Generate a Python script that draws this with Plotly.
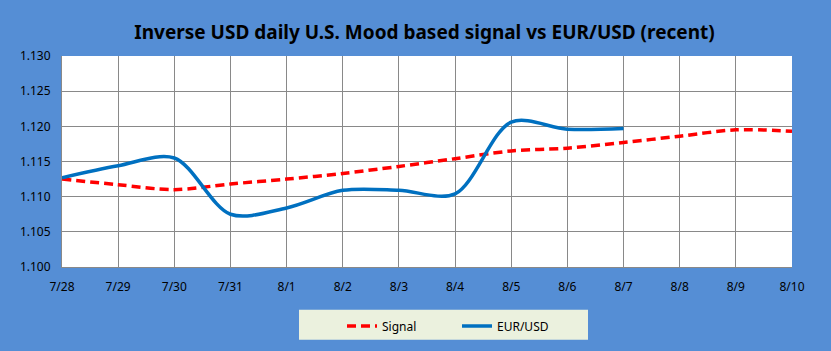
import plotly.graph_objects as go

dates = ["7/28", "7/29", "7/30", "7/31", "8/1", "8/2", "8/3", "8/4", "8/5", "8/6", "8/7", "8/8", "8/9", "8/10"]
signal = [1.1125, 1.1117, 1.1110, 1.1118, 1.1125, 1.1133, 1.1143, 1.1154, 1.1165, 1.1169, 1.1177, 1.1186, 1.1195, 1.1193]
eurusd = [1.1127, 1.1144, 1.1155, 1.1075, 1.1084, 1.1109, 1.1109, 1.1104, 1.1206, 1.1196, 1.1197]
y_ticks = [1.100, 1.105, 1.110, 1.115, 1.120, 1.125, 1.130]

xi = list(range(len(dates)))

fig = go.Figure()
fig.add_trace(go.Scatter(x=xi, y=signal, mode="lines", name="Signal",
                         line=dict(color="#FF0000", width=3.5, dash="9px,5px", shape="spline", smoothing=0.9)))
fig.add_trace(go.Scatter(x=xi[:len(eurusd)], y=eurusd, mode="lines", name="EUR/USD",
                         line=dict(color="#0070C0", width=3.5, shape="spline", smoothing=0.9)))

L, R, T, B = 62, 792, 56, 268
W, H = 831, 351
def px(x): return (x - L) / (R - L)
def py(y): return (B - y) / (B - T)

fig.add_shape(type="rect", xref="paper", yref="paper",
              x0=px(299), x1=px(588), y0=py(341), y1=py(311),
              fillcolor="#EBF1DE", line=dict(width=0), layer="below")

fig.update_layout(
    width=W, height=H,
    margin=dict(l=L, r=W - R, t=T, b=H - B),
    paper_bgcolor="#558ED5", plot_bgcolor="#FFFFFF",
    title=dict(text="<b>Inverse USD daily U.S. Mood based signal vs EUR/USD (recent)</b>",
               x=px(424.5), xref="paper", xanchor="center", y=1 - 32 / H, yanchor="middle",
               font=dict(family="Noto Sans", size=19, color="#000000")),
    font=dict(family="Noto Sans", size=12, color="#000000"),
    showlegend=True,
    legend=dict(orientation="h", x=px(342), xanchor="left", y=py(326), yanchor="middle",
                bgcolor="rgba(0,0,0,0)", font=dict(size=12), entrywidth=70, entrywidthmode="pixels",
                itemwidth=30),
    xaxis=dict(range=[0, len(dates) - 1], tickmode="array", tickvals=xi, ticktext=dates,
               showgrid=True, gridcolor="#898989", gridwidth=1, showline=True, linecolor="#898989",
               linewidth=1, zeroline=False, ticks="", ticklabelstandoff=9, fixedrange=True),
    yaxis=dict(range=[1.100, 1.130], tickmode="array", tickvals=y_ticks,
               ticktext=[f"{v:.3f}" for v in y_ticks],
               showgrid=True, gridcolor="#898989", gridwidth=1, showline=True, linecolor="#898989",
               linewidth=1, zeroline=False, ticks="", ticklabelstandoff=8, fixedrange=True),
)

fig.write_html("out.html")
